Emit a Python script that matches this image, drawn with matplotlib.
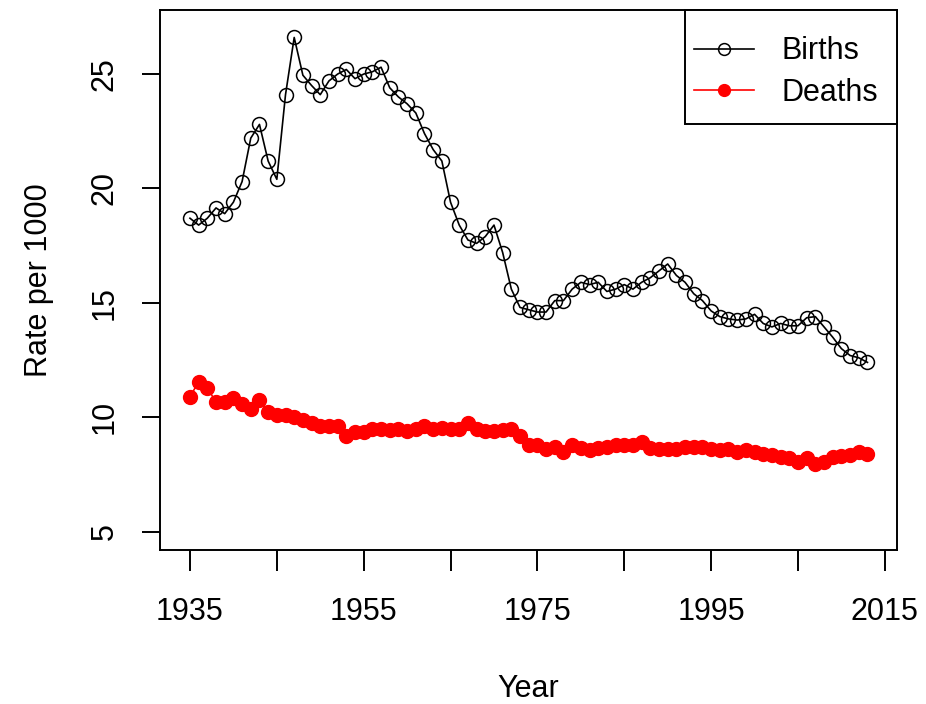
import matplotlib
matplotlib.use("Agg")
import matplotlib.pyplot as plt
from matplotlib.patches import Rectangle

plt.rcParams['font.family'] = ['Liberation Sans', 'DejaVu Sans']

years = list(range(1935, 2014))
births = [18.7, 18.4, 18.7, 19.15, 18.9, 19.4, 20.3, 22.2, 22.8, 21.2,
          20.4, 24.1, 26.6, 24.95, 24.5, 24.1, 24.7, 25.0, 25.2, 24.8,
          25.0, 25.1, 25.3, 24.4, 24.0, 23.7, 23.3, 22.4, 21.7, 21.2,
          19.4, 18.4, 17.75, 17.6, 17.9, 18.4, 17.2, 15.6, 14.8, 14.7,
          14.6, 14.6, 15.1, 15.1, 15.6, 15.9, 15.8, 15.9, 15.5, 15.6,
          15.8, 15.6, 15.9, 16.1, 16.4, 16.7, 16.2, 15.9, 15.4, 15.1,
          14.65, 14.4, 14.3, 14.25, 14.3, 14.5, 14.1, 13.95, 14.1, 14.0,
          14.0, 14.35, 14.4, 13.95, 13.5, 13.0, 12.7, 12.6, 12.4]
deaths = [10.9, 11.55, 11.3, 10.65, 10.65, 10.85, 10.6, 10.35, 10.75, 10.25,
          10.1, 10.1, 10.0, 9.9, 9.75, 9.6, 9.6, 9.6, 9.2, 9.35,
          9.35, 9.5, 9.5, 9.45, 9.5, 9.4, 9.5, 9.6, 9.5, 9.55,
          9.5, 9.5, 9.75, 9.5, 9.4, 9.4, 9.45, 9.5, 9.2, 8.8,
          8.8, 8.6, 8.7, 8.5, 8.8, 8.65, 8.55, 8.65, 8.7, 8.8,
          8.8, 8.8, 8.9, 8.65, 8.6, 8.6, 8.6, 8.7, 8.7, 8.7,
          8.6, 8.55, 8.6, 8.5, 8.55, 8.5, 8.4, 8.35, 8.25, 8.2,
          8.05, 8.2, 7.95, 8.05, 8.25, 8.3, 8.35, 8.5, 8.4]

W, H = 926, 704
fig = plt.figure(figsize=(W / 100, H / 100), dpi=100)
ax = fig.add_axes([160/W, 1 - 550/H, 737/W, 540/H])

ax.plot(years, births, color='black', lw=1.2, marker='o', ms=10,
        mfc='none', mec='black', mew=1.1, label='Births')
ax.plot(years, deaths, color='red', lw=1.2, marker='o', ms=10,
        mfc='red', mec='red', label='Deaths')

ax.set_xlim(1931.55, 2016.4)
ax.set_ylim(4.2, 27.8)
ax.set_xticks(range(1935, 2016, 10))
ax.set_xticklabels(['1935', '', '1955', '', '1975', '', '1995', '', '2015'])
ax.set_yticks([5, 10, 15, 20, 25])
for s in ax.spines.values():
    s.set_linewidth(1.4)
ax.tick_params(axis='x', length=15, width=1.4, pad=19, labelsize=22)
ax.tick_params(axis='y', length=13, width=1.4, pad=16, labelsize=22)
for t in ax.get_yticklabels():
    t.set_rotation(90)
    t.set_verticalalignment('center')

ax.set_xlabel('Year', fontsize=22, labelpad=34)
ax.set_ylabel('Rate per 1000', fontsize=22, labelpad=26)

# legend box drawn separately, entries placed inside it
fig.patches.append(Rectangle((685/W, 1 - 124/H), 212/W, 114/H,
                             transform=fig.transFigure, fill=True,
                             facecolor='white', edgecolor='black',
                             lw=1.4, zorder=5))
leg = fig.legend(*ax.get_legend_handles_labels(), loc='center',
                 bbox_to_anchor=(786/W, 1 - 72/H), fontsize=22,
                 frameon=False, borderpad=0, borderaxespad=0, markerscale=0.85,
                 handlelength=1.97, handletextpad=0.88, labelspacing=0.38)
leg.set_zorder(6)

fig.savefig('out.png', dpi=100)
